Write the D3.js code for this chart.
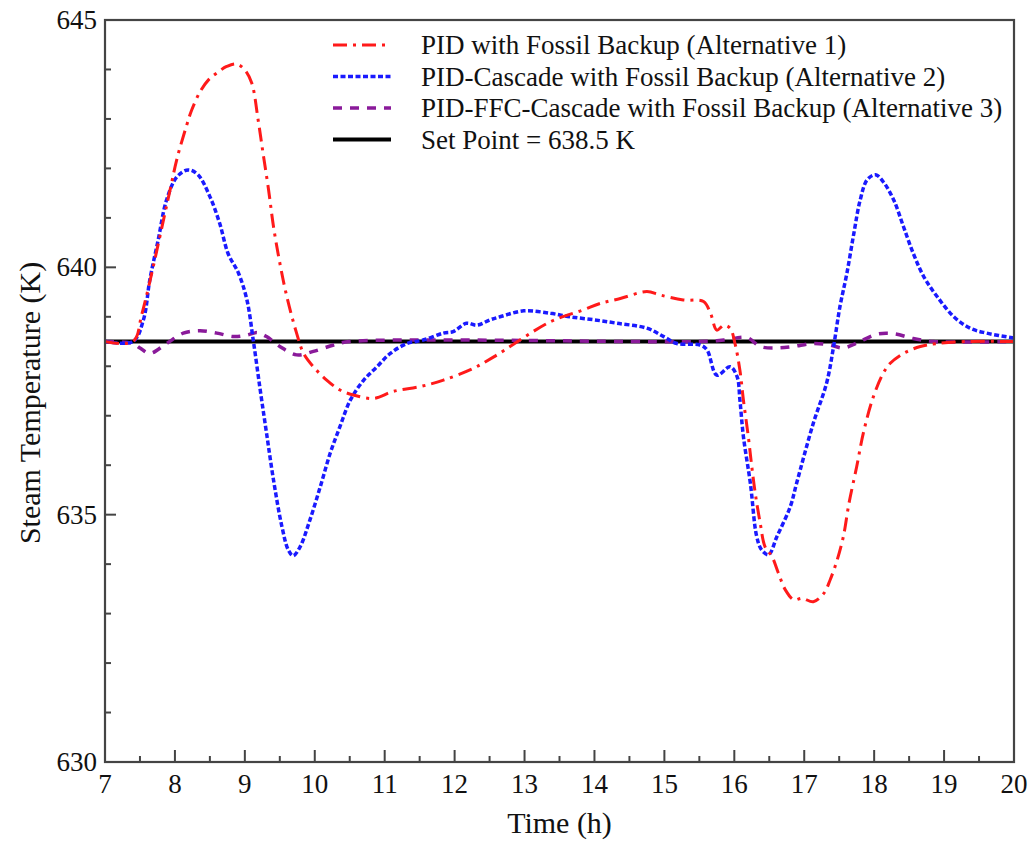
<!DOCTYPE html>
<html>
<head>
<meta charset="utf-8">
<script src="https://cdn.jsdelivr.net/npm/d3@7"></script>
<style>
  body { margin: 0; background: #fff; }
  text { font-family: "Liberation Serif", "DejaVu Serif", serif; fill: #111; }
</style>
</head>
<body>
<svg id="chart" width="1029" height="841"></svg>
<script>
// values (time in h, temperature in K)

var setPoint = 638.5;

var alt1 = [
  [7, 638.5], [7.4, 638.5], [7.53, 639.07], [7.93, 641.56], [8.03, 642.2], [8.17, 642.88],
  [8.24, 643.18], [8.36, 643.55], [8.48, 643.79], [8.62, 643.95], [8.74, 644.06], [8.88, 644.11],
  [9.0, 643.99], [9.1, 643.72], [9.19, 642.98], [9.26, 642.31], [9.34, 641.56], [9.41, 640.82],
  [9.5, 640.09], [9.6, 639.41], [9.74, 638.67], [9.84, 638.26], [9.98, 637.99], [10.17, 637.72],
  [10.36, 637.52], [10.55, 637.42], [10.84, 637.35], [11.12, 637.49], [11.51, 637.59], [11.84, 637.72],
  [12.27, 637.96], [12.56, 638.19], [13.37, 638.9], [13.84, 639.14], [14.08, 639.27], [14.37, 639.37],
  [14.75, 639.51], [14.94, 639.44], [15.27, 639.34], [15.56, 639.31], [15.66, 639.07], [15.75, 638.73],
  [15.85, 638.83], [15.94, 638.77], [16.01, 638.46], [16.08, 637.92], [16.13, 637.32], [16.2, 636.58],
  [16.25, 635.97], [16.3, 635.43], [16.37, 634.83], [16.44, 634.35], [16.54, 634.15], [16.63, 633.82],
  [16.73, 633.48], [16.85, 633.28], [16.97, 633.31], [17.13, 633.24], [17.28, 633.41], [17.37, 633.68],
  [17.47, 634.08], [17.56, 634.56], [17.64, 635.23], [17.75, 635.97], [17.85, 636.68], [17.99, 637.39],
  [18.13, 637.86], [18.23, 638.06], [18.42, 638.26], [18.66, 638.4], [18.9, 638.46], [19.33, 638.5],
  [20, 638.5]
];

var alt2 = [
  [7, 638.5], [7.4, 638.5], [7.55, 638.94], [7.64, 639.74], [7.76, 640.55], [7.88, 641.36],
  [8.03, 641.83], [8.19, 641.97], [8.33, 641.87], [8.5, 641.43], [8.64, 640.89], [8.76, 640.28],
  [8.91, 639.88], [9.03, 639.34], [9.12, 638.53], [9.22, 637.52], [9.31, 636.65], [9.41, 635.7],
  [9.53, 634.76], [9.62, 634.29], [9.69, 634.17], [9.79, 634.35], [9.93, 634.89], [10.08, 635.57],
  [10.22, 636.24], [10.36, 636.78], [10.51, 637.32], [10.7, 637.72], [10.89, 637.99], [11.08, 638.26],
  [11.32, 638.46], [11.55, 638.53], [11.84, 638.67], [11.98, 638.7], [12.17, 638.87], [12.32, 638.83],
  [12.51, 638.94], [12.65, 639.0], [12.99, 639.12], [13.37, 639.07], [13.65, 639.0], [13.99, 638.94],
  [14.32, 638.87], [14.75, 638.77], [14.99, 638.6], [15.18, 638.46], [15.51, 638.43], [15.61, 638.33],
  [15.75, 637.82], [15.94, 637.99], [16.04, 637.79], [16.08, 637.32], [16.13, 636.58], [16.23, 635.63],
  [16.32, 634.56], [16.39, 634.29], [16.49, 634.19], [16.61, 634.56], [16.8, 635.16], [16.89, 635.63],
  [17.13, 636.85], [17.32, 637.66], [17.42, 638.4], [17.51, 639.2], [17.61, 639.88], [17.71, 640.69],
  [17.8, 641.36], [17.9, 641.77], [18.02, 641.87], [18.13, 641.73], [18.28, 641.36], [18.42, 640.82],
  [18.56, 640.28], [18.71, 639.81], [18.9, 639.41], [19.14, 639.0], [19.37, 638.77], [19.61, 638.67],
  [20, 638.57]
];

var alt3 = [
  [7, 638.5], [7.4, 638.46], [7.5, 638.37], [7.64, 638.26], [7.88, 638.46], [8.12, 638.67],
  [8.36, 638.72], [8.6, 638.67], [8.84, 638.6], [9.03, 638.63], [9.17, 638.68], [9.31, 638.6],
  [9.5, 638.4], [9.74, 638.23], [9.98, 638.3], [10.27, 638.43], [10.5, 638.5], [15.5, 638.5],
  [15.85, 638.53], [16.18, 638.58], [16.37, 638.4], [16.61, 638.37], [16.84, 638.4], [17.13, 638.46],
  [17.37, 638.43], [17.56, 638.37], [17.75, 638.47], [18.04, 638.65], [18.28, 638.66], [18.56, 638.56],
  [18.85, 638.5], [20, 638.5]
];

var legendLabels = [
  "PID with Fossil Backup (Alternative 1)",
  "PID-Cascade with Fossil Backup (Alternative 2)",
  "PID-FFC-Cascade with Fossil Backup (Alternative 3)",
  "Set Point = 638.5 K"
];

var xTicks = d3.range(7, 21, 1);
var yTicks = [630, 635, 640, 645];

var svg = d3.select("#chart");
var margin = { left: 105, right: 1014, top: 20, bottom: 762 };

var x = d3.scaleLinear().domain([7, 20]).range([margin.left, margin.right]);
var y = d3.scaleLinear().domain([630, 645]).range([margin.bottom, margin.top]);

var line = d3.line()
  .x(function (d) { return x(d[0]); })
  .y(function (d) { return y(d[1]); })
  .curve(d3.curveCatmullRom.alpha(0.5));

var styles = [
  { color: "#ff1a1a", width: 3, dash: "14,6,3,6" },
  { color: "#1a1aff", width: 3.5, dash: "5,2.5" },
  { color: "#8a1a9a", width: 3.5, dash: "9,8" },
  { color: "#000", width: 4, dash: null }
];

// set point first, the runs go on top of it
svg.append("line")
  .attr("x1", x(7)).attr("x2", x(20))
  .attr("y1", y(setPoint)).attr("y2", y(setPoint))
  .attr("stroke", styles[3].color)
  .attr("stroke-width", styles[3].width);

[alt3, alt2, alt1].forEach(function (series, k) {
  var s = styles[2 - k];
  svg.append("path")
    .datum(series)
    .attr("d", line)
    .attr("fill", "none")
    .attr("stroke", s.color)
    .attr("stroke-width", s.width)
    .attr("stroke-dasharray", s.dash);
});

// frame
svg.append("rect")
  .attr("x", margin.left).attr("y", margin.top)
  .attr("width", margin.right - margin.left)
  .attr("height", margin.bottom - margin.top)
  .attr("fill", "none")
  .attr("stroke", "#444")
  .attr("stroke-width", 2.2);

// ticks, pointing inward
var xMinor = d3.range(7.5, 20, 1);
var yMinor = d3.range(630, 646, 1).filter(function (v) { return v % 5 != 0; });

svg.selectAll(".xt").data(xTicks.slice(1, -1)).enter().append("line")
  .attr("x1", x).attr("x2", x)
  .attr("y1", margin.bottom).attr("y2", margin.bottom - 12)
  .attr("stroke", "#444").attr("stroke-width", 2);
svg.selectAll(".xm").data(xMinor).enter().append("line")
  .attr("x1", x).attr("x2", x)
  .attr("y1", margin.bottom).attr("y2", margin.bottom - 6)
  .attr("stroke", "#444").attr("stroke-width", 2);
svg.selectAll(".yt").data(yTicks.slice(1, -1)).enter().append("line")
  .attr("x1", margin.left).attr("x2", margin.left + 11)
  .attr("y1", y).attr("y2", y)
  .attr("stroke", "#444").attr("stroke-width", 2);
svg.selectAll(".ym").data(yMinor).enter().append("line")
  .attr("x1", margin.left).attr("x2", margin.left + 6)
  .attr("y1", y).attr("y2", y)
  .attr("stroke", "#444").attr("stroke-width", 2);

svg.selectAll(".xl").data(xTicks).enter().append("text")
  .attr("x", x)
  .attr("y", margin.bottom + 31)
  .attr("text-anchor", "middle")
  .attr("font-size", 27)
  .text(function (d) { return d; });

svg.selectAll(".yl").data(yTicks).enter().append("text")
  .attr("x", margin.left - 8)
  .attr("y", function (d) { return y(d) + 9; })
  .attr("text-anchor", "end")
  .attr("font-size", 27)
  .text(function (d) { return d; });

svg.append("text")
  .attr("x", (margin.left + margin.right) / 2)
  .attr("y", 833)
  .attr("text-anchor", "middle")
  .attr("font-size", 30)
  .text("Time (h)");

svg.append("text")
  .attr("transform", "translate(40,403) rotate(-90)")
  .attr("text-anchor", "middle")
  .attr("font-size", 30)
  .text("Steam Temperature (K)");

// legend
var legend = svg.append("g");
legendLabels.forEach(function (label, i) {
  var ly = 45 + i * 31.5;
  var s = styles[i];
  legend.append("line")
    .attr("x1", 333).attr("x2", 391)
    .attr("y1", ly).attr("y2", ly)
    .attr("stroke", s.color)
    .attr("stroke-width", s.width)
    .attr("stroke-dasharray", s.dash);
  legend.append("text")
    .attr("x", 421)
    .attr("y", ly + 9)
    .attr("font-size", 27)
    .text(label);
});
</script>
</body>
</html>
